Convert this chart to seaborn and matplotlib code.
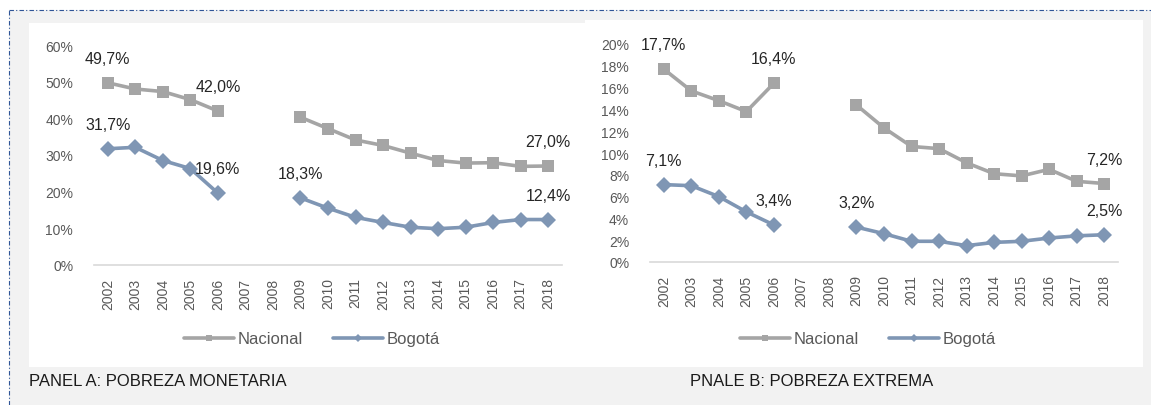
import numpy as np
import pandas as pd
import seaborn as sns
import matplotlib.pyplot as plt
from matplotlib.lines import Line2D
from matplotlib.patches import Rectangle

sns.set_theme(style="white")
plt.rcParams['font.family'] = ['Liberation Sans', 'DejaVu Sans']

years = list(range(2002, 2019))
nan = np.nan
nac_monetaria = [49.7, 48.0, 47.3, 45.1, 42.0, nan, nan, 40.3, 37.2, 34.1, 32.6, 30.5, 28.5, 27.8, 27.9, 26.9, 27.0]
bog_monetaria = [31.7, 32.1, 28.5, 26.3, 19.6, nan, nan, 18.3, 15.5, 13.0, 11.6, 10.3, 9.9, 10.3, 11.6, 12.4, 12.4]
nac_extrema = [17.7, 15.7, 14.8, 13.8, 16.4, nan, nan, 14.4, 12.3, 10.6, 10.4, 9.1, 8.1, 7.9, 8.5, 7.4, 7.2]
bog_extrema = [7.1, 7.0, 6.0, 4.6, 3.4, nan, nan, 3.2, 2.6, 1.9, 1.9, 1.5, 1.8, 1.9, 2.2, 2.4, 2.5]
labeled_years = {"Nacional": [2002, 2006, 2018], "Bogotá": [2002, 2006, 2009, 2018]}

gray = "#a5a5a5"
blue = "#7f96b4"


def make_frame(nac, bog):
    rows = []
    for name, vals in [("Nacional", nac), ("Bogotá", bog)]:
        for y, v in zip(years, vals):
            if not np.isnan(v):
                rows.append([y, v, name, 0 if y < 2007 else 1])
    return pd.DataFrame(rows, columns=["year", "value", "serie", "seg"])


fig = plt.figure(figsize=(11.51, 4.06), dpi=100)
W, H = 1151, 406

# background gray area, dashed frame and white chart panels
fig.patches.append(Rectangle((9 / W, 0), 1, 1 - 11 / H, transform=fig.transFigure,
                             facecolor="#f2f2f2", edgecolor="none", zorder=-3))
fig.add_artist(Line2D([9 / W, 1], [1 - 11 / H, 1 - 11 / H], transform=fig.transFigure,
                      color="#2f5597", lw=0.8, ls=(0, (4, 2, 1, 2))))
fig.add_artist(Line2D([9 / W, 9 / W], [0, 1 - 11 / H], transform=fig.transFigure,
                      color="#2f5597", lw=0.8, ls=(0, (4, 2, 1, 2))))
fig.patches.append(Rectangle((29 / W, 1 - 368 / H), 556 / W, 344 / H, transform=fig.transFigure,
                             facecolor="white", edgecolor="none", zorder=-2))
fig.patches.append(Rectangle((585 / W, 1 - 368 / H), 558 / W, 347 / H, transform=fig.transFigure,
                             facecolor="white", edgecolor="none", zorder=-2))

panels = [
    (make_frame(nac_monetaria, bog_monetaria), [94 / W, 1 - 266 / H, 468 / W, 220 / H], 60, 10, 312),
    (make_frame(nac_extrema, bog_extrema), [650 / W, 1 - 263 / H, 468 / W, 218 / H], 20, 2, 868),
]

for df, rect, ymax, step, leg_x in panels:
    ax = fig.add_axes(rect)
    ax.set_facecolor("none")
    sns.lineplot(data=df, x="year", y="value", hue="serie", style="serie", units="seg",
                 estimator=None, palette={"Nacional": gray, "Bogotá": blue},
                 markers={"Nacional": "s", "Bogotá": "D"}, dashes=False,
                 linewidth=2.6, markersize=8, markeredgewidth=0, ax=ax, legend=False)
    for name in ["Nacional", "Bogotá"]:
        sub = df[df.serie == name]
        for yr in labeled_years[name]:
            v = sub.loc[sub.year == yr, "value"].iloc[0]
            ax.annotate(f"{v:.1f}%".replace(".", ","), (yr, v), xytext=(0, 17.5),
                        textcoords="offset points", ha="center", va="center",
                        fontsize=11.5, color="#262626")
    ax.set_xlim(2001.5, 2018.5)
    ax.set_ylim(0, ymax)
    ax.set_xticks(years)
    ax.set_xticklabels([str(y) for y in years], rotation=90, fontsize=10, color="#595959")
    ticks = np.arange(0, ymax + step, step)
    ax.set_yticks(ticks)
    ax.set_yticklabels([f"{t:g}%" for t in ticks], fontsize=10, color="#595959")
    ax.tick_params(axis="both", length=0, pad=9)
    ax.tick_params(axis="y", pad=15)
    ax.set_xlabel("")
    ax.set_ylabel("")
    for s in ["top", "right", "left"]:
        ax.spines[s].set_visible(False)
    ax.spines["bottom"].set_color("#d9d9d9")
    ax.spines["bottom"].set_linewidth(1.2)
    handles = [Line2D([], [], color=gray, lw=2.6, marker="s", markersize=5, markeredgewidth=0),
               Line2D([], [], color=blue, lw=2.6, marker="D", markersize=4, markeredgewidth=0)]
    fig.legend(handles, ["Nacional", "Bogotá"], loc="center", bbox_to_anchor=(leg_x / W, 1 - 340 / H),
               ncol=2, frameon=False, fontsize=12, labelcolor="#595959", handlelength=3.0,
               handletextpad=0.2, columnspacing=1.8)

fig.text(29 / W, 1 - 382 / H, "PANEL A: POBREZA MONETARIA", fontsize=12, color="#1a1a1a",
         ha="left", va="center")
fig.text(690 / W, 1 - 382 / H, "PNALE B: POBREZA EXTREMA", fontsize=12, color="#1a1a1a",
         ha="left", va="center")

plt.savefig("out.png", dpi=100)
